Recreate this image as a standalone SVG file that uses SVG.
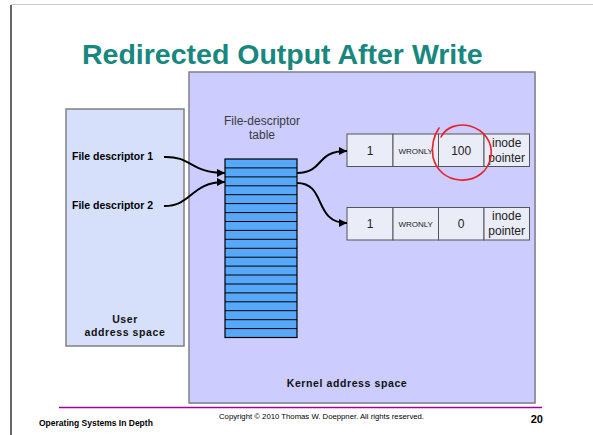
<svg xmlns="http://www.w3.org/2000/svg" width="593" height="435" viewBox="0 0 593 435">
  <defs>
    <marker id="head" viewBox="0 0 10 10" refX="10" refY="5" markerWidth="8" markerHeight="8" markerUnits="userSpaceOnUse" orient="auto">
      <path d="M0,0 L10,5 L0,10 z" fill="#000"/>
    </marker>
    <style>
      .title { font-family: "Liberation Sans", Arial, sans-serif; font-weight: bold; font-size: 28.5px; fill: #17877f; }
      .lbl { font-family: "Liberation Sans", Arial, sans-serif; font-weight: bold; font-size: 10.5px; fill: #000; }
      .space { font-family: "Liberation Sans", Arial, sans-serif; font-weight: bold; font-size: 10.5px; fill: #111; letter-spacing: 0.6px; }
      .cap { font-family: "Liberation Sans", Arial, sans-serif; font-size: 12px; fill: #3a3a3a; }
      .cell { fill: #eaecf8; stroke: #555; stroke-width: 1; }
      .val { font-family: "Liberation Sans", Arial, sans-serif; font-size: 12px; fill: #222; }
      .mode { font-family: "Liberation Sans", Arial, sans-serif; font-size: 8px; fill: #222; }
      .conn { fill: none; stroke: #000; stroke-width: 2; marker-end: url(#head); }
      .foot { font-family: "Liberation Sans", Arial, sans-serif; fill: #000; }
    </style>
  </defs>

  <!-- slide frame -->
  <rect x="0" y="0" width="593" height="435" fill="#fff"/>
  <line x1="11" y1="4.5" x2="593" y2="4.5" stroke="#c8c8c8" stroke-width="1"/>
  <line x1="11" y1="5" x2="11" y2="435" stroke="#000" stroke-width="1.2"/>

  <text class="title" x="82" y="64">Redirected Output After Write</text>

  <!-- kernel address space -->
  <g id="kernel">
    <rect x="190" y="73" width="346" height="331" fill="#9a9ab0" opacity="0.4"/>
    <rect x="189" y="72" width="346" height="331" fill="#ccccff" stroke="#7f7f8f" stroke-width="1.5"/>
    <text class="space" x="347" y="387" text-anchor="middle">Kernel address space</text>
  </g>

  <!-- user address space -->
  <g id="user">
    <rect x="66" y="109" width="118" height="237" fill="#d6e0fb" stroke="#808080" stroke-width="1.5"/>
    <text class="lbl" x="72" y="160">File descriptor 1</text>
    <text class="lbl" x="72" y="209">File descriptor 2</text>
    <text class="space" x="125" y="323" text-anchor="middle">User</text>
    <text class="space" x="125" y="335.5" text-anchor="middle">address space</text>
  </g>

  <!-- file-descriptor table: 20 slots -->
  <g id="fdtable">
    <text class="cap" x="262" y="125" text-anchor="middle">File-descriptor</text>
    <text class="cap" x="262" y="139" text-anchor="middle">table</text>
    <rect x="225" y="159" width="72" height="178.5" fill="#58a8fa" stroke="#000" stroke-width="1.2"/>
    <g stroke="#000" stroke-width="1">
      <line x1="225" y1="167.9" x2="297" y2="167.9"/>
      <line x1="225" y1="176.9" x2="297" y2="176.9"/>
      <line x1="225" y1="185.8" x2="297" y2="185.8"/>
      <line x1="225" y1="194.7" x2="297" y2="194.7"/>
      <line x1="225" y1="203.6" x2="297" y2="203.6"/>
      <line x1="225" y1="212.6" x2="297" y2="212.6"/>
      <line x1="225" y1="221.5" x2="297" y2="221.5"/>
      <line x1="225" y1="230.4" x2="297" y2="230.4"/>
      <line x1="225" y1="239.3" x2="297" y2="239.3"/>
      <line x1="225" y1="248.3" x2="297" y2="248.3"/>
      <line x1="225" y1="257.2" x2="297" y2="257.2"/>
      <line x1="225" y1="266.1" x2="297" y2="266.1"/>
      <line x1="225" y1="275.0" x2="297" y2="275.0"/>
      <line x1="225" y1="284.0" x2="297" y2="284.0"/>
      <line x1="225" y1="292.9" x2="297" y2="292.9"/>
      <line x1="225" y1="301.8" x2="297" y2="301.8"/>
      <line x1="225" y1="310.7" x2="297" y2="310.7"/>
      <line x1="225" y1="319.7" x2="297" y2="319.7"/>
      <line x1="225" y1="328.6" x2="297" y2="328.6"/>
    </g>
  </g>

  <!-- open file entry shared by both descriptors -->
  <g id="file1">
    <rect class="cell" x="347" y="134" width="46" height="32.5"/>
    <rect class="cell" x="393" y="134" width="45.5" height="32.5"/>
    <rect class="cell" x="438.5" y="134" width="45.5" height="32.5"/>
    <rect class="cell" x="484" y="134" width="45.5" height="32.5"/>
    <text class="val" x="370" y="154.5" text-anchor="middle">1</text>
    <text class="mode" x="415.7" y="153.5" text-anchor="middle">WRONLY</text>
    <text class="val" x="461.2" y="154.5" text-anchor="middle">100</text>
    <text class="val" x="506.7" y="146.5" text-anchor="middle">inode</text>
    <text class="val" x="506.7" y="161.5" text-anchor="middle">pointer</text>
  </g>

  <g id="file2">
    <rect class="cell" x="347" y="207.5" width="46" height="32.5"/>
    <rect class="cell" x="393" y="207.5" width="45.5" height="32.5"/>
    <rect class="cell" x="438.5" y="207.5" width="45.5" height="32.5"/>
    <rect class="cell" x="484" y="207.5" width="45.5" height="32.5"/>
    <text class="val" x="370" y="228" text-anchor="middle">1</text>
    <text class="mode" x="415.7" y="227" text-anchor="middle">WRONLY</text>
    <text class="val" x="461.2" y="228" text-anchor="middle">0</text>
    <text class="val" x="506.7" y="220" text-anchor="middle">inode</text>
    <text class="val" x="506.7" y="235" text-anchor="middle">pointer</text>
  </g>

  <!-- connectors -->
  <g id="connectors">
    <path class="conn" d="M164,157 C192,156 190,173 225,173"/>
    <path class="conn" d="M164,206 C193,206 190,182 225,182"/>
    <path class="conn" d="M297,173 C326,172 314,151 347,151"/>
    <path class="conn" d="M297,183 C327,183 313,223 347,223"/>
  </g>

  <!-- hand-drawn highlight around the offset -->
  <g id="highlight" fill="none" stroke="#e8202a" stroke-width="1.6" stroke-linecap="round">
    <path d="M441,137 C446,127 458,123 470,126 C484,130 493,142 491,156 C489,171 476,181 460,180 C446,179 436,170 433,157 C431,146 434,135 439,128"/>
  </g>

  <!-- footer -->
  <line x1="59" y1="407.5" x2="542" y2="407.5" stroke="#a0009f" stroke-width="1.6"/>
  <text class="foot" x="39" y="426" font-size="8.5" font-weight="bold">Operating Systems In Depth</text>
  <text class="foot" x="219" y="419" font-size="6.5" textLength="205" lengthAdjust="spacingAndGlyphs">Copyright © 2010 Thomas W. Doeppner.  All rights reserved.</text>
  <text class="foot" x="543" y="423" font-size="11" font-weight="bold" text-anchor="end">20</text>
</svg>
